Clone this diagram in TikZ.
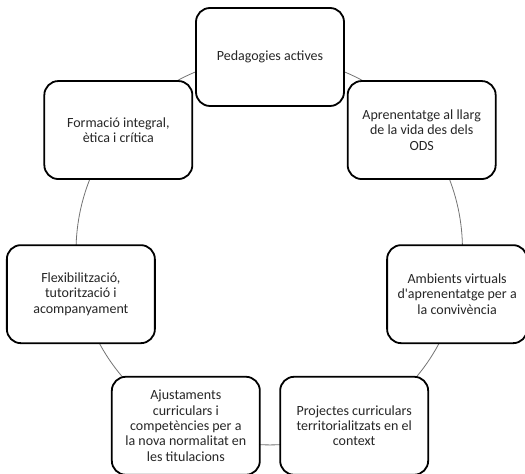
\documentclass[tikz,border=0pt]{standalone}
\usepackage{fontspec}
\setmainfont{Carlito}
\usetikzlibrary{backgrounds}
\begin{document}
\begin{tikzpicture}[x=1pt,y=1pt,
  box/.style={draw=black, line width=1.8pt, rounded corners=14pt, fill=white,
    minimum width=148pt, minimum height=98pt, align=center, inner sep=2pt,
    text=black!85, font=\fontsize{14}{15.4}\selectfont},
  link/.style={draw=black!55, line width=0.8pt, bend left=25.714, looseness=0.896}]
\useasboundingbox (0,0) rectangle (525,474);
\coordinate (c) at (270,223);
\node[box] (n1) at ([shift={(90:194)}]c) {Pedagogies actives};
\node[box] (n2) at ([shift={(38.571:194)}]c) {Aprenentatge al llarg\\de la vida des dels\\ODS};
\node[box, minimum width=140pt, xshift=-2pt] (n3) at ([shift={(-12.857:194)}]c) {Ambients virtuals\\d\textquotesingle aprenentatge per a\\la convivència};
\node[box] (n4) at ([shift={(-64.286:194)}]c) {Projectes curriculars\\territorialitzats en el\\context};
\node[box] (n5) at ([shift={(-115.714:194)}]c) {Ajustaments\\curriculars i\\competències per a\\la nova normalitat en\\les titulacions};
\node[box] (n6) at ([shift={(-167.143:194)}]c) {Flexibilització,\\tutorització i\\acompanyament};
\node[box] (n7) at ([shift={(141.429:194)}]c) {Formació integral,\\ètica i crítica};
\begin{pgfonlayer}{background}
\draw[link] (n1.center) to (n2.center);
\draw[link] (n2.center) to (n3.center);
\draw[link] (n3.center) to (n4.center);
\draw[link] (n4.center) to (n5.center);
\draw[link] (n5.center) to (n6.center);
\draw[link] (n6.center) to (n7.center);
\draw[link] (n7.center) to (n1.center);
\end{pgfonlayer}
\end{tikzpicture}
\end{document}
